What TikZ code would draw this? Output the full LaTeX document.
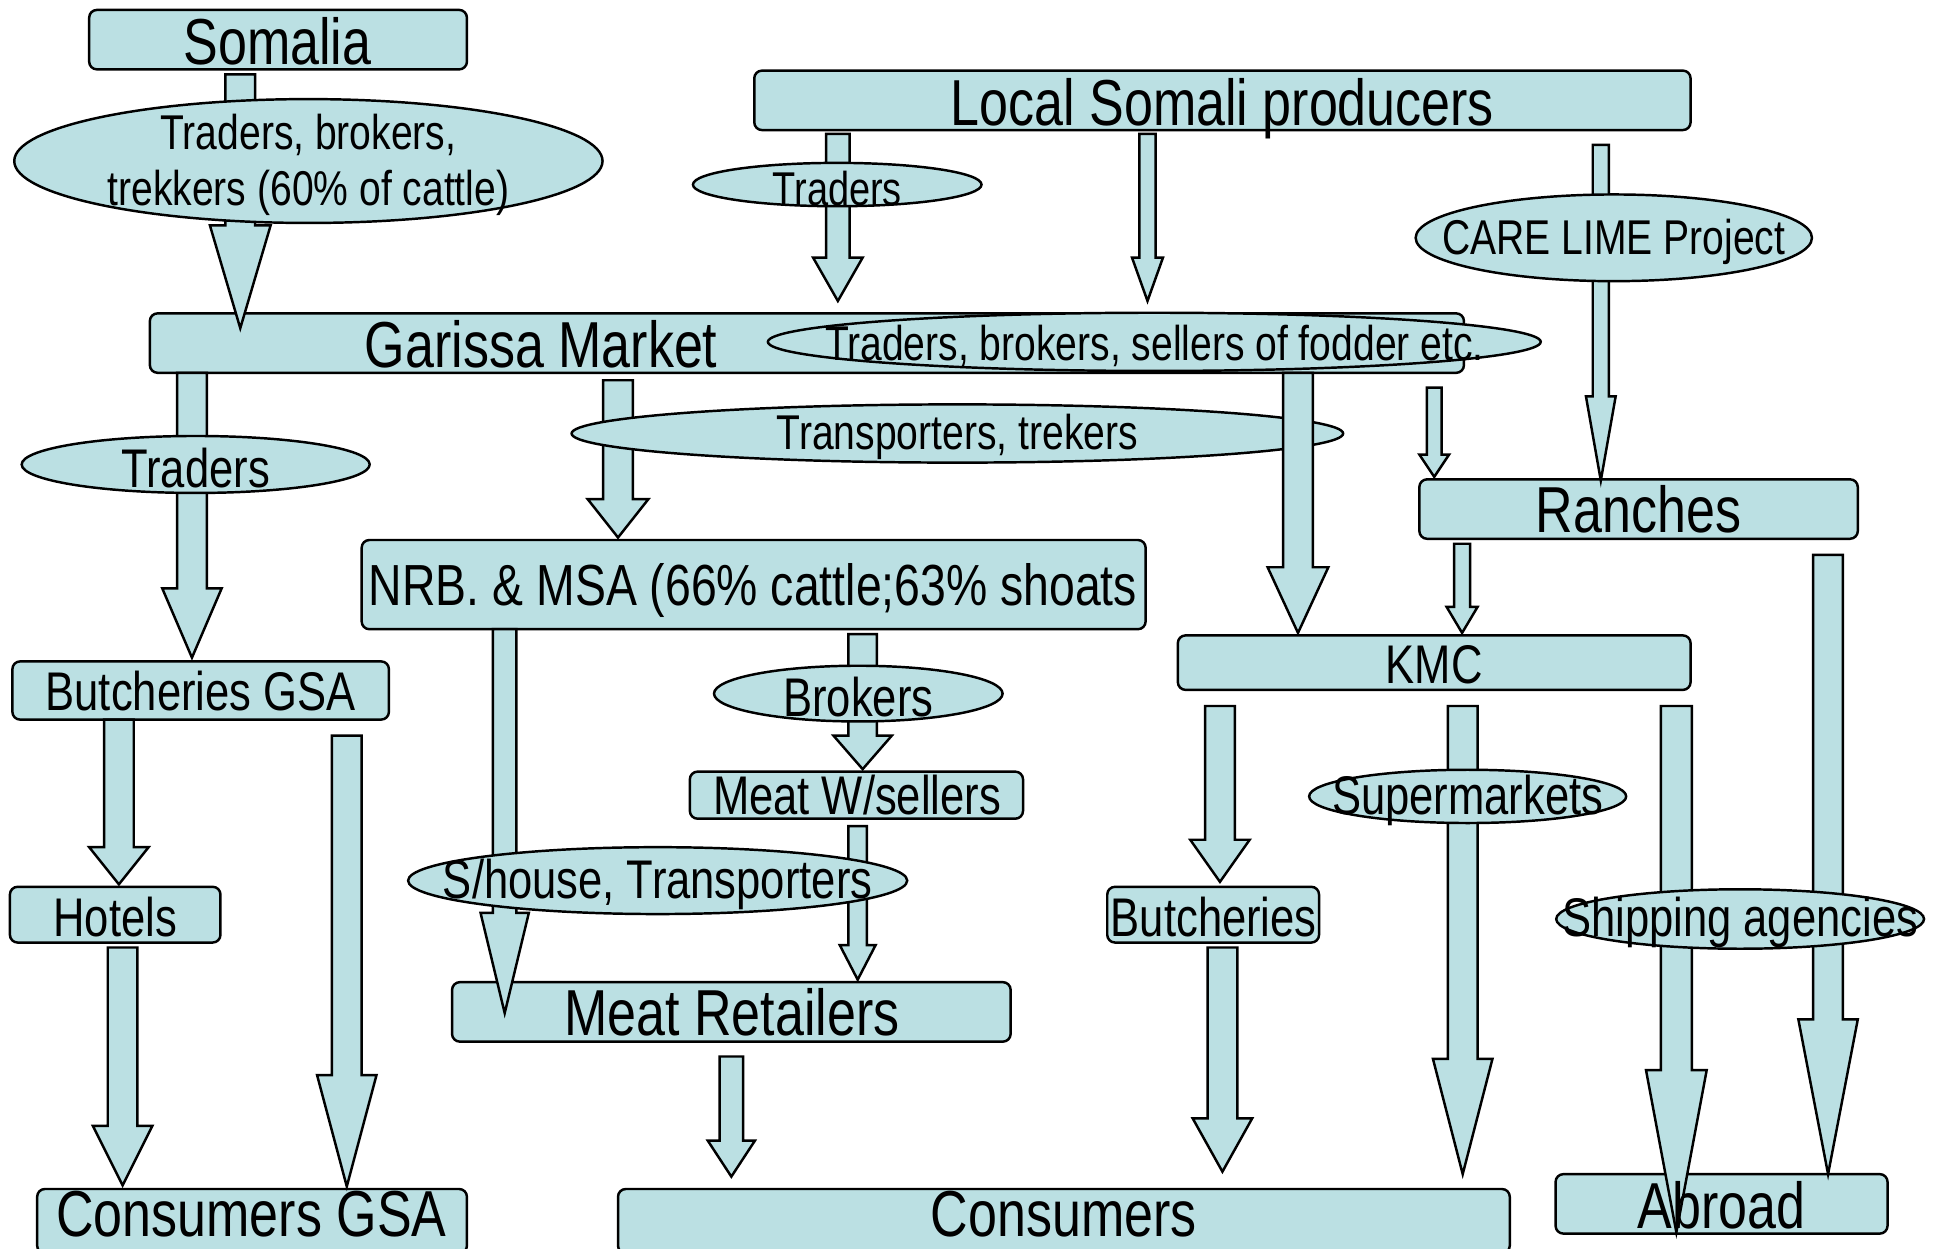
\documentclass[tikz,border=0pt]{standalone}
\usepackage{fontspec}
\setmainfont{Liberation Sans}[FakeStretch=0.8]
\usetikzlibrary{shapes.geometric}
\definecolor{boxblue}{RGB}{187,224,227}
\newcommand{\dpx}{0.012385cm}
% block arrow: x, top, head start, tip, half shaft, half head
\newcommand{\fatarrow}[6]{%
  \draw[arrowbody] (#1-#5,#2) -- (#1+#5,#2) -- (#1+#5,#3) -- (#1+#6,#3)
    -- (#1,#4) -- (#1-#6,#3) -- (#1-#5,#3) -- cycle;}
\tikzset{
  box/.style={draw, fill=boxblue, rounded corners=2.2pt, line width=0.7pt, inner sep=0pt},
  oval/.style={draw, fill=boxblue, ellipse, line width=0.7pt, inner sep=0pt},
  sz/.style 2 args={minimum width=#1*\dpx, minimum height=#2*\dpx},
  arrowbody/.style={draw, fill=boxblue, line width=0.7pt, line join=miter},
  bigtxt/.style={font=\fontsize{18.5}{20}\selectfont, anchor=base, inner sep=0pt},
  nrbtxt/.style={font=\fontsize{16.5}{18}\selectfont, anchor=base, inner sep=0pt},
  midtxt/.style={font=\fontsize{15.5}{17}\selectfont, anchor=base, inner sep=0pt},
  smalltxt/.style={font=\fontsize{13.9}{16.2}\selectfont, inner sep=0pt, align=center, yshift=-1.1pt},
  ovaltxt/.style={font=\fontsize{15.5}{17}\selectfont, inner sep=0pt, yshift=-1.1pt},
}
\begin{document}
\begin{tikzpicture}[x=\dpx, y=-\dpx]
  \useasboundingbox (0,0) rectangle (1568,1008);
  % boxes
  \node[box, sz={305}{48}] (somalia) at (224.5,32) {};
  \node[box, sz={756}{48}] (local) at (987,81) {};
  \node[box, sz={1061}{48}] (garissa) at (651.5,277) {};
  \node[box, sz={354}{48}] (ranches) at (1323,411) {};
  \node[box, sz={633}{72}] (nrb) at (608.5,472) {};
  \node[box, sz={304}{47}] (butchgsa) at (162,557.5) {};
  \node[box, sz={414}{44}] (kmc) at (1158,535) {};
  \node[box, sz={269}{38}] (wsellers) at (691.5,642) {};
  \node[box, sz={170}{45}] (hotels) at (93,738.5) {};
  \node[box, sz={171}{45}] (butch) at (979.5,738.5) {};
  \node[box, sz={451}{48}] (retailers) at (590.5,817) {};
  \node[box, sz={347}{52}] (consgsa) at (203.5,986) {};
  \node[box, sz={720}{52}] (consumers) at (859,986) {};
  \node[box, sz={268}{48}] (abroad) at (1390,972) {};
  % flows
  \fatarrow{194}{60}{182}{265}{12}{24.5}
  \fatarrow{676.5}{108}{208}{243}{9.5}{20}
  \fatarrow{926.5}{108}{208}{243}{6.5}{12.5}
  \fatarrow{1292.5}{117}{320}{388}{6.5}{12}
  \fatarrow{155}{301}{475}{531}{12}{24}
  \fatarrow{499}{307}{403}{434}{12}{24.5}
  \fatarrow{1158}{313}{367}{385}{6}{12}
  \fatarrow{1180.5}{439}{490}{511}{6.5}{12.5}
  \fatarrow{1476}{448}{823}{948}{12}{24}
  \fatarrow{96}{581}{684}{714}{12}{24}
  \fatarrow{280}{594}{868}{958}{12}{24}
  \fatarrow{407.5}{508}{737}{818}{9.5}{19.5}
  \fatarrow{696.5}{512}{594}{621}{11.5}{23.5}
  \fatarrow{692.5}{667}{763}{791}{7.5}{14.5}
  \fatarrow{99}{765}{909}{957}{12}{24}
  \fatarrow{590.5}{853}{921}{950}{9.5}{19}
  \fatarrow{985}{570}{678}{712}{12}{24}
  \fatarrow{1181}{570}{855}{948}{12}{24}
  \fatarrow{1353.5}{570}{864}{995}{12.5}{24.5}
  \fatarrow{987}{765}{903}{946}{12}{24}
  % go-betweens
  \node[oval, sz={475}{100}, label={[smalltxt]center:Traders, brokers,\\trekkers (60\% of cattle)}] (etrek) at (249,130) {};
  \node[oval, sz={233}{35}, label={[smalltxt, font=\fontsize{13.5}{15}\selectfont]center:Traders}] (etradtop) at (676,149) {};
  \node[oval, sz={320}{70}, label={[smalltxt]center:CARE LIME Project}] (ecare) at (1303,192) {};
  \node[oval, sz={624}{47}, label={[smalltxt]center:Traders, brokers, sellers of fodder etc.}] (efodder) at (932,276) {};
  \node[oval, sz={281}{46}, label={[ovaltxt]center:Traders}] (etradleft) at (158,375) {};
  \node[oval, sz={623}{47}, label={[smalltxt]center:Transporters, trekers}] (etrans) at (773,350) {};
  \node[oval, sz={233}{45}, label={[ovaltxt]center:Brokers}] (ebrokers) at (693,560) {};
  \node[oval, sz={403}{54}, label={[ovaltxt]center:S/house, Transporters}] (eshouse) at (531,711) {};
  \node[oval, sz={256}{43}, label={[ovaltxt]center:Supermarkets}] (esuper) at (1185,643) {};
  \node[oval, sz={297}{48}, label={[ovaltxt]center:Shipping agencies}] (eship) at (1405,742) {};
  \fatarrow{1048}{301}{458}{511}{12}{24.5}
  % box texts
  \node[bigtxt] (tsomalia) at (224,52) {Somalia};
  \node[bigtxt] (tlocal) at (987,101) {Local Somali producers};
  \node[bigtxt] (tgarissa) at (437,297) {Garissa Market};
  \node[bigtxt] (tranches) at (1323,430) {Ranches};
  \node[nrbtxt] (tnrb) at (608,489) {NRB. \& MSA (66\% cattle;63\% shoats};
  \node[midtxt] (tbutchgsa) at (162,574) {Butcheries GSA};
  \node[midtxt] (tkmc) at (1158,552) {KMC};
  \node[midtxt] (twsellers) at (692,658) {Meat W/sellers};
  \node[midtxt] (thotels) at (93,756) {Hotels};
  \node[midtxt] (tbutch) at (980,756) {Butcheries};
  \node[bigtxt] (tretailers) at (591,836) {Meat Retailers};
  \node[bigtxt] (tconsgsa) at (203,998) {Consumers GSA};
  \node[bigtxt] (tconsumers) at (859,998) {Consumers};
  \node[bigtxt] (tabroad) at (1390,992) {Abroad};
\end{tikzpicture}
\end{document}
